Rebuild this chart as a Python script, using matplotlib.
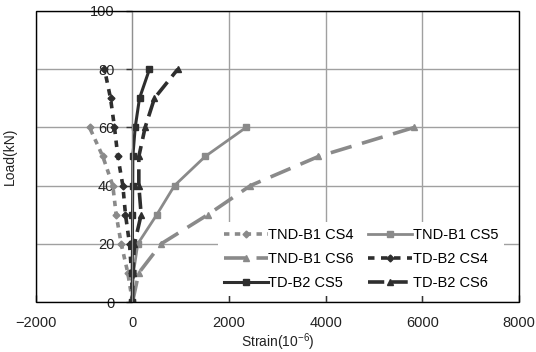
import numpy as np
import matplotlib.pyplot as plt
from matplotlib.patches import Rectangle

plt.rcParams['font.family'] = ['Liberation Sans', 'DejaVu Sans']
plt.rcParams['mathtext.default'] = 'regular'

# load steps (kN)
load6 = [0, 10, 20, 30, 40, 50, 60]
load8 = [0, 10, 20, 30, 40, 50, 60, 70, 80]

# strains (x10^-6)
tnd_cs4 = [0, -97, -234, -338, -408, -615, -890]
tnd_cs5 = [0, 20, 110, 503, 870, 1505, 2354]
tnd_cs6 = [0, 130, 594, 1560, 2443, 3851, 5839]
td_cs4 = [0, -20, -62, -145, -200, -304, -373, -455, -580]
td_cs5 = [0, -7, 0, 0, 5, 7, 56, 145, 352]
td_cs6 = [0, 10, 41, 179, 131, 131, 262, 455, 938]

gray = '#8a8a8a'
dark = '#2e2e2e'

fig = plt.figure(figsize=(5.36, 3.52), dpi=100)
ax = fig.add_axes([0.067, 0.142, 0.901, 0.827])

h1, = ax.plot(tnd_cs4, load6, color=gray, lw=2.6, ls=(0, (1.5, 1.5)), marker='D', ms=3.5, label='TND-B1 CS4')
h2, = ax.plot(tnd_cs5, load6, color=gray, lw=2, ls='-', marker='s', ms=4.2, label='TND-B1 CS5')
h3, = ax.plot(tnd_cs6, load6, color=gray, lw=2.6, ls=(0, (6, 3)), marker='^', ms=4.5, label='TND-B1 CS6')
h4, = ax.plot(td_cs4, load8, color=dark, lw=2.6, ls=(0, (1.8, 1.8)), marker='D', ms=3.5, label='TD-B2 CS4')
h5, = ax.plot(td_cs5, load8, color=dark, lw=2.2, ls='-', marker='s', ms=4.2, label='TD-B2 CS5')
h6, = ax.plot(td_cs6, load8, color=dark, lw=2.6, ls=(0, (4.5, 2)), marker='^', ms=4.5, label='TD-B2 CS6')

ax.set_xlim(-2000, 8000)
ax.set_ylim(0, 100)
ax.set_xticks(np.arange(-2000, 8001, 2000))
ax.set_yticks(np.arange(0, 101, 20))
ax.grid(True, color='#a0a0a0', lw=1)
ax.set_axisbelow(True)

# y axis crosses at zero like in the original
ax.spines['left'].set_position(('data', 0))
ax.spines['left'].set_color('#909090')
for s in ['right', 'top', 'bottom']:
    ax.spines[s].set_visible(False)
ax.add_patch(Rectangle((0, 0), 1, 1, transform=ax.transAxes, fill=False,
                       ec='black', lw=1, zorder=5, clip_on=False))

ax.tick_params(axis='x', direction='in', length=5, width=1, color='#333333',
               labelsize=10.5, pad=10, labelcolor='#222222')
ax.tick_params(axis='y', direction='out', length=4, width=1, color='#333333',
               labelsize=10.5, pad=9, labelcolor='#222222')
for lab in ax.get_yticklabels():
    lab.set_zorder(6)

ax.set_xlabel('Strain(10$^{-6}$)', fontsize=10, labelpad=1, color='#222222')
ax.set_ylabel('Load(kN)', fontsize=10, color='#222222')
ax.yaxis.set_label_coords(-0.039, 0.5, transform=ax.transAxes)

# Excel-like row order: fill rows first
handles = [h1, h3, h5, h2, h4, h6]
leg = ax.legend(handles=handles, labels=[h.get_label() for h in handles],
                ncol=2, loc='lower right', bbox_to_anchor=(0.985, -0.005),
                fontsize=10.5, frameon=True, facecolor='white', edgecolor='none',
                framealpha=1, fancybox=False, handlelength=3.0, handletextpad=0.05,
                columnspacing=1.0, labelspacing=0.7, borderpad=0.4)
leg.set_zorder(4)

fig.savefig('out.png', dpi=100)
